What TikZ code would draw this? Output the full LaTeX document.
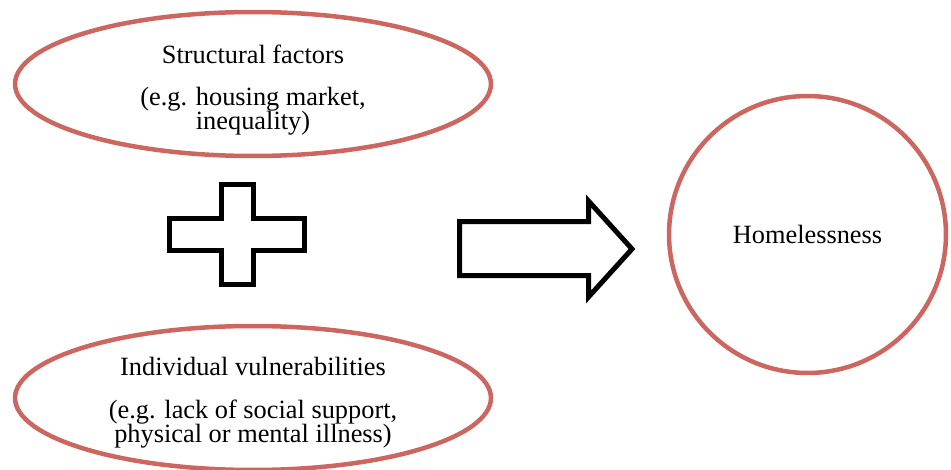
\documentclass[tikz,border=0pt]{standalone}
\usepackage{fontspec}
\setmainfont{Liberation Serif}
\usetikzlibrary{shapes.geometric}
\definecolor{ringred}{RGB}{204,102,96}

\begin{document}
\begin{tikzpicture}[x=0.02cm,y=-0.02cm,
    factor/.style={ellipse,draw=ringred,line width=0.09cm,inner sep=0pt,
        minimum width=9.52cm,minimum height=2.88cm},
    factortext/.style={align=center,inner sep=0pt,font=\fontsize{15}{14}\selectfont},
    outcome/.style={circle,draw=ringred,line width=0.09cm,inner sep=0pt,
        minimum size=5.54cm,font=\fontsize{15}{14}\selectfont},
    sign/.style={draw=black,line width=0.1cm,fill=white}]
\useasboundingbox (0,0) rectangle (951,470);
\node[factor] (structural) at (253,84) {};
\node[factortext] (structuraltext) at (253,90) {Structural factors\\[10pt](e.g. housing market,\\inequality)};
\node[factor] (individual) at (253,398) {};
\node[factortext] (individualtext) at (253,403) {Individual vulnerabilities\\[10pt](e.g. lack of social support,\\physical or mental illness)};
\node[outcome] (homeless) at (807.5,234.5) {Homelessness};
\draw[sign] (221.5,184.5) -- (253.5,184.5) -- (253.5,218.5) -- (304.5,218.5) -- (304.5,250.5) -- (253.5,250.5) -- (253.5,284.5) -- (221.5,284.5) -- (221.5,250.5) -- (169.5,250.5) -- (169.5,218.5) -- (221.5,218.5) -- cycle;
\draw[sign] (459.5,221.5) -- (588.5,221.5) -- (588.5,201) -- (632,249) -- (588.5,297) -- (588.5,275.5) -- (459.5,275.5) -- cycle;
\end{tikzpicture}
\end{document}
